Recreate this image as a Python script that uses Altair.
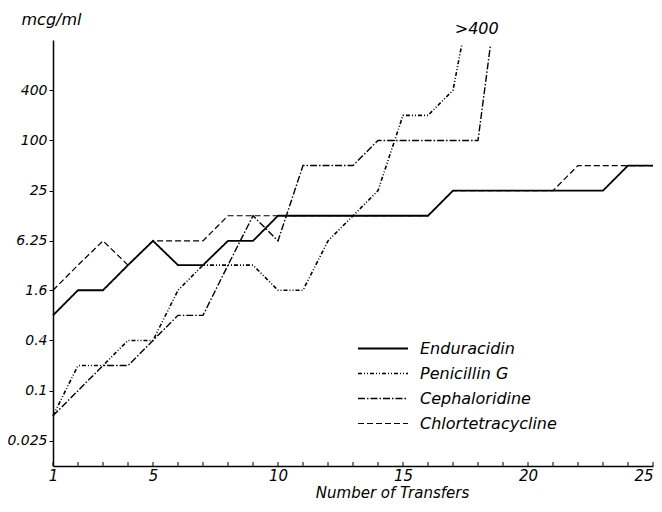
import altair as alt
import pandas as pd

# ---- data ----
transfers = list(range(1, 26))
enduracidin = [0.8, 1.6, 1.6, 3.2, 6.25, 3.2, 3.2, 6.25, 6.25, 12.5, 12.5, 12.5, 12.5,
               12.5, 12.5, 12.5, 25, 25, 25, 25, 25, 25, 25, 50, 50]
chlortetracycline = [1.6, 3.2, 6.25, 3.2, 6.25, 6.25, 6.25, 12.5, 12.5, 12.5, 12.5, 12.5,
                     12.5, 12.5, 12.5, 12.5, 25, 25, 25, 25, 25, 50, 50, 50, 50]
penicillin_x = list(range(1, 18)) + [17.35]
penicillin = [0.05, 0.2, 0.2, 0.4, 0.4, 1.6, 3.2, 3.2, 3.2, 1.6, 1.6, 6.25, 12.5, 25,
              200, 200, 400, 1400]
cephaloridine_x = list(range(1, 19)) + [18.5]
cephaloridine = [0.05, 0.1, 0.2, 0.2, 0.4, 0.8, 0.8, 3.2, 12.5, 6.25, 50, 50, 50, 100,
                 100, 100, 100, 100, 1400]

series_names = ["Enduracidin", "Penicillin G", "Cephaloridine", "Chlortetracycline"]
dash_styles = [[1, 0], [4, 2, 1, 2, 1, 2], [7, 2, 1.5, 2], [6, 3]]
line_widths = [1.8, 1.2, 1.2, 1.2]

y_ticks = [0.025, 0.1, 0.4, 1.6, 6.25, 25, 100, 400]
x_labels = [1, 5, 10, 15, 20, 25]

annot_text = [">400"]
annot_x = [17.95]
annot_y = [2170]

FONT = "DejaVu Sans"

rows = []
for n, v in zip(transfers, enduracidin):
    rows.append({"series": "Enduracidin", "n": n, "v": v, "o": n})
for n, v in zip(penicillin_x, penicillin):
    rows.append({"series": "Penicillin G", "n": n, "v": v, "o": n})
for n, v in zip(cephaloridine_x, cephaloridine):
    rows.append({"series": "Cephaloridine", "n": n, "v": v, "o": n})
for n, v in zip(transfers, chlortetracycline):
    rows.append({"series": "Chlortetracycline", "n": n, "v": v, "o": n})
df = pd.DataFrame(rows)

xscale = alt.Scale(domain=[1, 25], nice=False, zero=False)
yscale = alt.Scale(type="log", domain=[0.0125, 1600], nice=False)

lines = alt.Chart(df).mark_line(color="black", clip=False).encode(
    x=alt.X("n:Q", scale=xscale,
            axis=alt.Axis(values=x_labels, tickSize=0,
                          labelFlush=False, labelOverlap=False,
                          labelAlign=alt.expr("datum.value == 25 ? 'right' : 'center'"),
                          labelFontSize=15, labelPadding=2,
                          title="Number  of  Transfers", titleFontSize=15,
                          titleX=339, titleY=31, titleBaseline="alphabetic",
                          titleFontStyle="italic", titleFontWeight="normal")),
    y=alt.Y("v:Q", scale=yscale,
            axis=alt.Axis(values=y_ticks, format="~g", tickSize=4, labelFontSize=14,
                          labelPadding=2, title="mcg/ml", titleAngle=0, titleX=-2,
                          titleY=-21, titleAlign="center", titleBaseline="middle",
                          titleFontSize=16, titleFontStyle="italic",
                          titleFontWeight="normal")),
    strokeDash=alt.StrokeDash("series:N",
                              scale=alt.Scale(domain=series_names, range=dash_styles),
                              legend=alt.Legend(title=None, orient="none", legendX=304,
                                                legendY=296, symbolType="stroke",
                                                symbolSize=2500, symbolStrokeWidth=1.3,
                                                symbolStrokeColor="black",
                                                clipHeight=25, labelFontSize=16,
                                                labelFontStyle="italic", labelOffset=11,
                                                labelLimit=300, rowPadding=0)),
    strokeWidth=alt.StrokeWidth("series:N",
                                scale=alt.Scale(domain=series_names, range=line_widths),
                                legend=None),
    order="o:Q",
)

tick_df = pd.DataFrame({"n": transfers})
ticks = alt.Chart(tick_df).mark_rule(color="black", strokeWidth=1).encode(
    x=alt.X("n:Q", scale=xscale),
    y=alt.value(426),
    y2=alt.value(422),
)

annot_df = pd.DataFrame({"t": annot_text, "n": annot_x, "v": annot_y})
annot = alt.Chart(annot_df).mark_text(font=FONT, fontSize=16, fontStyle="italic",
                                      color="black", clip=False).encode(
    x=alt.X("n:Q", scale=xscale),
    y=alt.Y("v:Q", scale=yscale),
    text="t:N",
)

chart = alt.layer(lines, ticks, annot).properties(
    width=600, height=426,
    autosize=alt.AutoSizeParams(type="none"),
    padding={"left": 45, "top": 32, "right": 1, "bottom": 34},
).configure_view(stroke=None).configure_axis(
    domainColor="black", domainWidth=1.5, tickColor="black", labelColor="black",
    titleColor="black", grid=False, labelFont=FONT, titleFont=FONT,
    labelFontStyle="italic",
).configure_legend(labelFont=FONT, labelColor="black")

chart.save("out.html", embed_options={"renderer": "svg", "actions": False})
